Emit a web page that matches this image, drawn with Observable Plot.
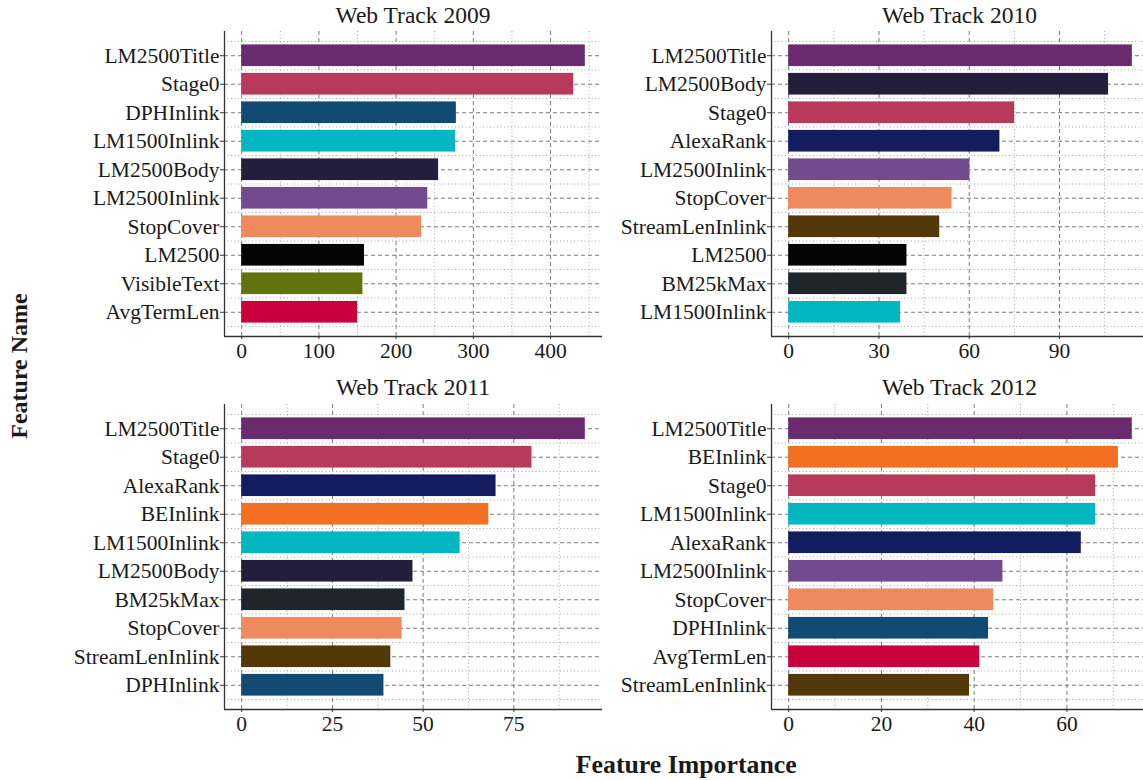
<!DOCTYPE html>
<html><head><meta charset="utf-8">
<script src="https://cdn.jsdelivr.net/npm/d3@7"></script>
<script src="https://cdn.jsdelivr.net/npm/@observablehq/plot@0.6"></script>
<style>
html,body{margin:0;padding:0;background:#fff;overflow:hidden;}
#fig{position:relative;width:1143px;height:780px;overflow:hidden;background:#fff;font-family:"Liberation Serif",serif;color:#1a1a1a;}
#fig > svg{position:absolute;overflow:visible;}
#fig svg text{font-family:"Liberation Serif",serif;}
</style></head>
<body><div id="fig"></div>
<script>
// ---- data ----
const names2009 = ["LM2500Title","Stage0","DPHInlink","LM1500Inlink","LM2500Body","LM2500Inlink","StopCover","LM2500","VisibleText","AvgTermLen"];
const values2009 = [445, 430, 278, 277, 255, 241, 233, 159, 157, 150];
const ticks2009 = [0, 100, 200, 300, 400];
const minor2009 = [50, 150, 250, 350, 450];

const names2010 = ["LM2500Title","LM2500Body","Stage0","AlexaRank","LM2500Inlink","StopCover","StreamLenInlink","LM2500","BM25kMax","LM1500Inlink"];
const values2010 = [114.2, 106.3, 75.1, 70.2, 60.2, 54.3, 50.2, 39.3, 39.3, 37.2];
const ticks2010 = [0, 30, 60, 90];
const minor2010 = [15, 45, 75, 105];

const names2011 = ["LM2500Title","Stage0","AlexaRank","BEInlink","LM1500Inlink","LM2500Body","BM25kMax","StopCover","StreamLenInlink","DPHInlink"];
const values2011 = [94.7, 80.0, 70.1, 68.1, 60.2, 47.2, 45.0, 44.2, 41.1, 39.2];
const ticks2011 = [0, 25, 50, 75];
const minor2011 = [12.5, 37.5, 62.5, 87.5];

const names2012 = ["LM2500Title","BEInlink","Stage0","LM1500Inlink","AlexaRank","LM2500Inlink","StopCover","DPHInlink","AvgTermLen","StreamLenInlink"];
const values2012 = [74.1, 71.1, 66.2, 66.2, 63.1, 46.2, 44.2, 43.1, 41.2, 39.0];
const ticks2012 = [0, 20, 40, 60];
const minor2012 = [10, 30, 50, 70];

const featureNames = ["LM2500Title","Stage0","DPHInlink","LM1500Inlink","LM2500Body","LM2500Inlink","StopCover","LM2500","VisibleText","AvgTermLen","AlexaRank","StreamLenInlink","BM25kMax","BEInlink"];
const featureColors = ["#6A2A6E","#B83A5B","#114A73","#02B7C1","#221E3B","#724A8D","#EF8A5F","#050505","#62730E","#C9003B","#131C5F","#523809","#1E262B","#F37022"];

const panelTitles = ["Web Track 2009","Web Track 2010","Web Track 2011","Web Track 2012"];
const xLabel = "Feature Importance";
const yLabel = "Feature Name";

// ---- layout ----
const FONT = "Liberation Serif, serif";
const PW = 378, PH = 305, ML = 222, MR = 0, MT = 4, MB = 40;
const colorOf = new Map(featureNames.map((n, i) => [n, featureColors[i]]));
const fig = document.getElementById("fig");

function panel(names, values, ticks, minor, px, py) {
  const max = d3.max(values);
  const xDomain = [-0.05 * max, 1.05 * max];
  const n = names.length;
  const yDomain = [-0.85, n - 1 + 0.85];
  const rows = names.map((name, i) => ({name, i, value: values[i]}));
  const idx = d3.range(n);
  const halves = d3.range(n + 1).map(i => i - 0.5);
  const svg = Plot.plot({
    width: ML + PW + MR, height: MT + PH + MB,
    marginLeft: ML, marginRight: MR, marginTop: MT, marginBottom: MB,
    x: {domain: xDomain},
    y: {domain: yDomain, reverse: true},
    color: {type: "identity"},
    style: {fontFamily: FONT, fontSize: "21.5px", color: "#1a1a1a", background: "transparent", overflow: "visible"},
    marks: [
      Plot.ruleX(minor, {stroke: "#a8a8a8", strokeDasharray: "1,2.5", strokeWidth: 1}),
      Plot.ruleY(halves, {stroke: "#a8a8a8", strokeDasharray: "1,2.5", strokeWidth: 1}),
      Plot.ruleX(ticks, {stroke: "#7a7a7a", strokeDasharray: "4,3", strokeWidth: 1}),
      Plot.ruleY(idx, {stroke: "#7a7a7a", strokeDasharray: "4,3", strokeWidth: 1}),
      Plot.rect(rows, {x1: 0, x2: "value", y1: d => d.i - 0.38, y2: d => d.i + 0.38, fill: d => colorOf.get(d.name)}),
      Plot.ruleX([xDomain[0]], {stroke: "#333", strokeWidth: 1.3}),
      Plot.ruleY([yDomain[1]], {stroke: "#333", strokeWidth: 1.3}),
      Plot.axisX(ticks, {tickSize: 3, tickPadding: 3, label: null, stroke: "#333", fill: "#1a1a1a", fontFamily: FONT, fontSize: 21.5}),
      Plot.axisY(idx, {tickSize: 4, tickPadding: 1, tickFormat: i => names[i], label: null, stroke: "#333", fill: "#1a1a1a", fontFamily: FONT, fontSize: 21.5})
    ]
  });
  svg.style.left = (px - ML) + "px";
  svg.style.top = (py - MT) + "px";
  svg.style.fontFamily = FONT;
  svg.setAttribute("font-family", FONT);
  fig.appendChild(svg);
}

const lefts = [224, 770.5];
const tops = [30.7, 404.3];
panel(names2009, values2009, ticks2009, minor2009, lefts[0], tops[0]);
panel(names2010, values2010, ticks2010, minor2010, lefts[1], tops[0]);
panel(names2011, values2011, ticks2011, minor2011, lefts[0], tops[1]);
panel(names2012, values2012, ticks2012, minor2012, lefts[1], tops[1]);

// ---- titles and axis labels ----
const ns = "http://www.w3.org/2000/svg";
const over = document.createElementNS(ns, "svg");
over.setAttribute("width", 1143); over.setAttribute("height", 780);
over.style.left = "0px"; over.style.top = "0px"; over.style.pointerEvents = "none";
function txt(s, x, y, size, weight, rot) {
  const t = document.createElementNS(ns, "text");
  t.textContent = s;
  t.setAttribute("text-anchor", "middle");
  t.setAttribute("font-family", FONT);
  t.setAttribute("font-size", size);
  t.setAttribute("font-weight", weight);
  t.setAttribute("fill", "#1a1a1a");
  t.setAttribute("transform", `translate(${x},${y})` + (rot ? ` rotate(${rot})` : ""));
  over.appendChild(t);
}
const titleBase = [22.7, 395];
txt(panelTitles[0], lefts[0] + PW / 2, titleBase[0], 23.5, "normal");
txt(panelTitles[1], lefts[1] + PW / 2, titleBase[0], 23.5, "normal");
txt(panelTitles[2], lefts[0] + PW / 2, titleBase[1], 23.5, "normal");
txt(panelTitles[3], lefts[1] + PW / 2, titleBase[1], 23.5, "normal");
txt(xLabel, (lefts[0] + lefts[1] + PW) / 2, 773, 25.8, "bold");
txt(yLabel, 26.5, 366, 24, "bold", -90);
fig.appendChild(over);
</script>
</body></html>
